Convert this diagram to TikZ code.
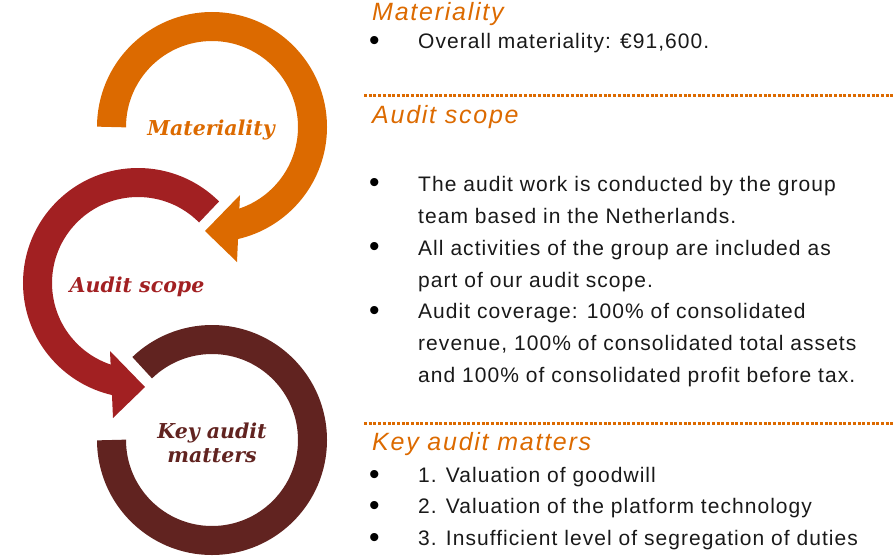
\documentclass[tikz,border=0pt]{standalone}
\usepackage{fontspec}
\setmainfont{Liberation Sans}
\newfontfamily\bodyfont[LetterSpace=5]{Liberation Sans}
\newfontfamily\headfont[LetterSpace=7]{Liberation Sans}
\newfontfamily\labelfont{DejaVu Serif}
\usetikzlibrary{calc}
\definecolor{pwcorange}{RGB}{220,106,0}
\definecolor{pwcred}{RGB}{162,32,34}
\definecolor{pwcbrown}{RGB}{97,35,32}
\definecolor{bodytext}{RGB}{25,25,25}

\begin{document}
\begin{tikzpicture}[x=1pt, y=1pt,
    ring/.style={line width=29pt},
    ringlabel/.style={font=\labelfont\bfseries\itshape\fontsize{20.5}{24}\selectfont, align=center, inner sep=0pt},
    heading/.style={anchor=base west, inner sep=0pt, text=pwcorange, font=\headfont\itshape\fontsize{25}{30}\selectfont},
    dot/.style={anchor=base west, inner sep=0pt, text=black, font=\fontsize{30}{32}\selectfont},
    item/.style={anchor=base west, inner sep=0pt, align=left, text=bodytext, font=\bodyfont\fontsize{21}{32}\selectfont},
    divider/.style={pwcorange, line width=3pt, dash pattern=on 3pt off 1.7pt}]
    \useasboundingbox (0,-557) rectangle (893,0);

    % ring centres
    \coordinate (matc) at (212,-127);
    \coordinate (scopec) at (138,-283);
    \coordinate (kamc) at (212,-440);

    % Key audit matters ring (no head)
    \draw[ring, pwcbrown] ($(kamc)+(180:100.5)$) arc[start angle=180, end angle=494, radius=100.5];

    % Audit scope ring with head
    \draw[ring, pwcred] ($(scopec)+(45:100.5)$) arc[start angle=45, end angle=258, radius=100.5];
    \fill[pwcred] ($(scopec)+(-28,-68)$) -- ($(scopec)+(7,-104)$) -- ($(scopec)+(-25,-135)$) -- cycle;

    % Materiality ring with head
    \draw[ring, pwcorange] ($(matc)+(180:100.5)$) arc[start angle=180, end angle=-78, radius=100.5];
    \fill[pwcorange] ($(matc)+(28,-68)$) -- ($(matc)+(-7,-104)$) -- ($(matc)+(25,-135)$) -- cycle;

    % labels inside the rings
    \node[ringlabel, text=pwcorange] (matlabel) at (211,-130) {Materiality};
    \node[ringlabel, text=pwcred] (scopelabel) at (137,-287) {Audit scope};
    \node[ringlabel, text=pwcbrown] (kamlabel) at (212,-443) {Key audit\\matters};

    % Materiality
    \node[heading] (mathead) at (372,-20) {Materiality};
    \node[dot] (matdot) at (369,-50) {\textbullet};
    \node[item] (matitem) at (418,-48) {Overall materiality: €91,600.};

    \draw[divider] (364,-95) -- (893,-95);

    % Audit scope (multi-line items sit on their last baseline)
    \node[heading] (scopehead) at (372,-123) {Audit scope};
    \node[dot] (scopedot1) at (369,-192) {\textbullet};
    \node[item] (scopeitem1) at (418,-223) {The audit work is conducted by the group\\team based in the Netherlands.};
    \node[dot] (scopedot2) at (369,-256) {\textbullet};
    \node[item] (scopeitem2) at (418,-287) {All activities of the group are included as\\part of our audit scope.};
    \node[dot] (scopedot3) at (369,-320) {\textbullet};
    \node[item] (scopeitem3) at (418,-382) {Audit coverage: 100\% of consolidated\\revenue, 100\% of consolidated total assets\\and 100\% of consolidated profit before tax.};

    \draw[divider] (364,-423) -- (893,-423);

    % Key audit matters
    \node[heading] (kamhead) at (372,-450) {Key audit matters};
    \node[dot] (kamdot1) at (369,-484) {\textbullet};
    \node[item] (kamitem1) at (418,-482) {1. Valuation of goodwill};
    \node[dot] (kamdot2) at (369,-515) {\textbullet};
    \node[item] (kamitem2) at (418,-513) {2. Valuation of the platform technology};
    \node[dot] (kamdot3) at (369,-547) {\textbullet};
    \node[item] (kamitem3) at (418,-545) {3. Insufficient level of segregation of duties};
\end{tikzpicture}
\end{document}
